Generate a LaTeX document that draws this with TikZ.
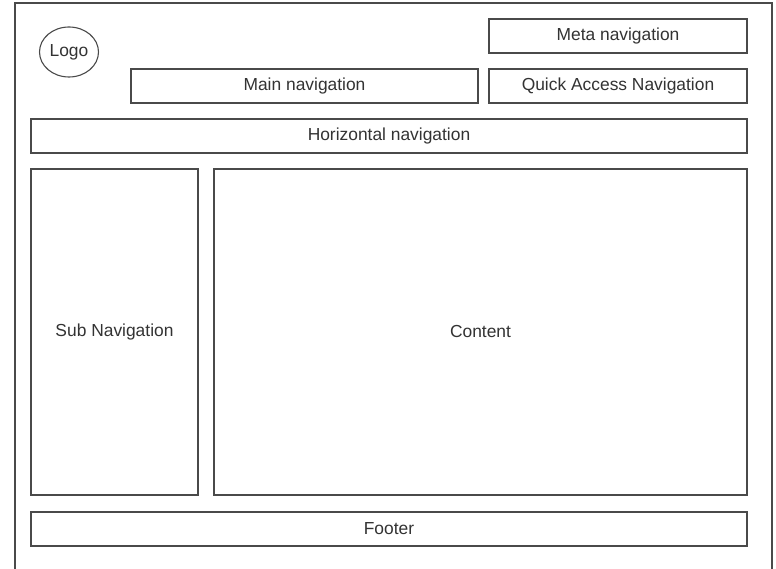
\documentclass[tikz,border=0pt]{standalone}
\usepackage{fontspec}
\setmainfont{Liberation Sans}
\usetikzlibrary{shapes.geometric}
\definecolor{framegray}{HTML}{4A4A4A}
\definecolor{textgray}{HTML}{333333}
\tikzset{
  navbox/.style={draw=framegray,line width=1.3pt,rectangle,inner sep=0pt,text=textgray,font=\fontsize{17.4}{20}\selectfont},
  logobox/.style={draw=framegray,line width=1.1pt,ellipse,inner sep=0pt,text=textgray,font=\fontsize{17.4}{20}\selectfont}
}
\newcommand{\navbox}[6]{\node[navbox,minimum width=#4pt,minimum height=#5pt] (#1) at (#2,#3) {#6};}

\begin{document}
\begin{tikzpicture}[x=1pt,y=-1pt]
    \useasboundingbox[fill=white] (0,0) rectangle (776,569);
    \draw[framegray,line width=1.3pt] (15,569) -- (15,3) -- (772,3) -- (772,569);
    \node[logobox,minimum width=59pt,minimum height=50pt] (logo) at (69,52) {Logo};
    \navbox{meta}{618}{36}{258}{34}{Meta navigation}
    \navbox{quick}{618}{86}{258}{34}{Quick Access Navigation}
    \navbox{main}{304.5}{86}{347}{34}{Main navigation}
    \navbox{horiz}{389}{136}{716}{34}{Horizontal navigation}
    \navbox{sub}{114.5}{332}{167}{326}{Sub Navigation}
    \navbox{content}{480.5}{332}{533}{326}{Content}
    \navbox{footer}{389}{529}{716}{34}{Footer}
\end{tikzpicture}
\end{document}
